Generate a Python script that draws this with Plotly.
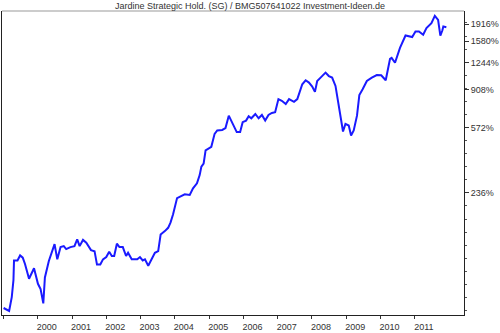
import plotly.graph_objects as go

# --- data: performance in % since start ---
dates = [
    "1999-01-03","1999-02-14","1999-03-03","1999-03-31","1999-04-18","1999-04-24","1999-05-31","1999-06-28",
    "1999-07-26","1999-08-19","1999-10-01","1999-11-23","2000-01-04","2000-02-01","2000-03-01","2000-03-18",
    "2000-04-29","2000-06-29","2000-07-28","2000-09-01","2000-10-05","2000-10-31","2000-12-15","2001-01-27",
    "2001-02-25","2001-03-23","2001-04-28","2001-06-02","2001-07-22","2001-08-29","2001-09-24","2001-10-29",
    "2001-11-27","2002-01-01","2002-02-01","2002-03-01","2002-03-26","2002-04-24","2002-05-21","2002-06-26",
    "2002-07-31","2002-08-21","2002-09-29","2002-11-27","2002-12-26","2003-01-24","2003-02-17","2003-03-24",
    "2003-05-10","2003-06-03","2003-07-08","2003-08-03","2003-09-17","2003-10-22","2003-11-16","2003-12-13",
    "2004-01-25","2004-03-12","2004-04-16","2004-06-08","2004-07-13","2004-08-24","2004-09-22","2004-10-10",
    "2004-11-03","2004-11-24","2005-01-24","2005-02-28","2005-03-28","2005-05-20","2005-06-24","2005-07-29",
    "2005-09-10","2005-10-22","2005-11-27","2005-12-24","2006-01-29","2006-02-26","2006-03-26","2006-05-08",
    "2006-06-12","2006-07-17","2006-08-21","2006-09-25","2006-10-31","2006-12-05","2007-01-09","2007-02-14",
    "2007-03-28","2007-05-02","2007-06-24","2007-07-29","2007-09-20","2007-10-26","2007-11-30","2008-01-04",
    "2008-02-02","2008-02-26","2008-04-02","2008-05-25","2008-06-29","2008-08-03","2008-09-08","2008-10-13",
    "2008-11-10","2008-11-27","2008-12-23","2009-01-27","2009-02-21","2009-03-21","2009-04-25","2009-05-20",
    "2009-06-24","2009-08-08","2009-09-30","2009-11-22","2010-01-08","2010-02-25","2010-04-12","2010-04-29",
    "2010-06-04","2010-07-27","2010-09-24","2010-10-23","2010-12-04","2011-01-08","2011-02-14","2011-03-31",
    "2011-05-05","2011-06-27","2011-08-02","2011-09-06","2011-09-30","2011-10-21","2011-11-01","2011-12-03",
]
perf_pct = [
    -1, -3, -4, 11, 33, 64, 64, 73,
    69, 58, 35, 51, 28, 21, 4, 37,
    63, 95, 66, 89, 91, 85, 89, 91,
    105, 91, 104, 98, 83, 81, 57, 57,
    66, 70, 80, 72, 72, 96, 89, 89,
    72, 78, 66, 66, 70, 64, 66, 55,
    69, 78, 81, 116, 124, 132, 145, 167,
    218, 224, 231, 229, 253, 272, 306, 344,
    359, 428, 448, 529, 552, 556, 569, 663,
    599, 541, 541, 612, 624, 658, 642, 677,
    642, 669, 624, 669, 685, 691, 810, 794,
    763, 810, 784, 810, 965, 1011, 984, 940,
    882, 1003, 1043, 1105, 1062, 1043, 946, 748,
    637, 545, 599, 587, 518, 552, 663, 849,
    910, 1003, 1043, 1075, 1072, 1011, 1295, 1310,
    1238, 1467, 1688, 1670, 1659, 1765, 1765, 1702,
    1833, 1937, 2100, 2009, 1683, 1785, 1866, 1853,
]

y_tick_pct = [236, 572, 908, 1244, 1580, 1916]
y_tick_labels = [f"{v}%" for v in y_tick_pct]
x_tick_years = list(range(1999, 2012))
x_tick_labels = ["" if y == 1999 else str(y) for y in x_tick_years]

base = 100.0
yvals = [base + p for p in perf_pct]
ytickvals = [base + p for p in y_tick_pct]

# minor ticks (geometric spacing)
minor = []
v = 336.0
r = 10 ** (13.2 / 219)
while v > 90:
    minor.append(v)
    v /= r
v = 336.0 * r
while v < 2300:
    minor.append(v)
    v *= r

FONT = "Liberation Sans"

fig = go.Figure()
fig.add_trace(go.Scatter(
    x=dates, y=yvals, mode="lines",
    line=dict(color="#1a1aff", width=2),
    hoverinfo="skip", showlegend=False,
))

fig.update_layout(
    width=500, height=333,
    margin=dict(l=1, r=34, t=11, b=15),
    paper_bgcolor="white", plot_bgcolor="white",
    title=dict(text="Jardine Strategic Hold. (SG) / BMG507641022 Investment-Ideen.de",
               x=0.5, xanchor="center", xref="container",
               y=1 - 6 / 333, yanchor="middle", yref="container",
               font=dict(family=FONT, size=9, color="#333333")),
    font=dict(family=FONT, size=9, color="#333333"),
    shapes=[dict(type="line", xref="paper", yref="paper", x0=0, x1=1, y0=1, y1=1,
                 line=dict(color="#999999", width=1))],
)

fig.update_xaxes(
    type="date",
    range=["1998-12-17", "2012-06-08"],
    tickmode="array",
    tickvals=[f"{y}-01-01" for y in x_tick_years],
    ticktext=x_tick_labels,
    ticks="outside", ticklen=3, tickcolor="#333333", tickwidth=1,
    ticklabelshift=9,
    showline=True, linecolor="#222222", linewidth=1,
    showgrid=False, zeroline=False,
    tickfont=dict(family=FONT, size=9, color="#333333"),
)

fig.update_yaxes(
    type="log",
    range=[1.9634, 3.3652],
    side="right",
    tickmode="array",
    tickvals=ytickvals,
    ticktext=y_tick_labels,
    ticks="outside", ticklen=4, tickcolor="#333333", tickwidth=1,
    minor=dict(tickmode="array", tickvals=minor, ticks="outside", ticklen=2,
               tickcolor="#555555", showgrid=False),
    showline=True, linecolor="#222222", linewidth=1, mirror=True,
    showgrid=False, zeroline=False,
    tickfont=dict(family=FONT, size=9, color="#333333"),
)

fig.write_html("out.html", config={"displayModeBar": False},
               post_script="document.body.style.margin='0';")
